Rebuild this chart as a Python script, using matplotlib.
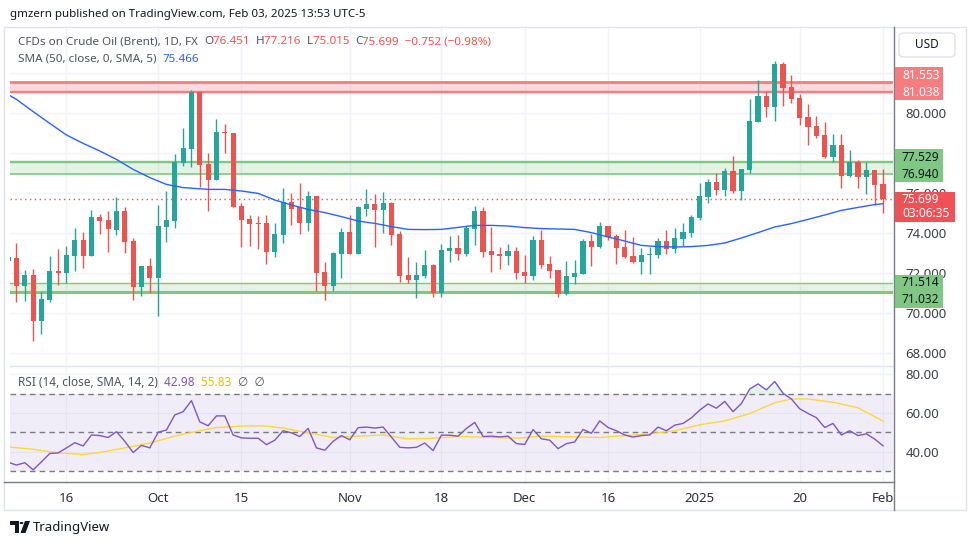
import numpy as np
import pandas as pd
import matplotlib
matplotlib.use("Agg")
import matplotlib.pyplot as plt
from matplotlib.patches import Rectangle, FancyBboxPatch, Polygon, Circle
from matplotlib.lines import Line2D

plt.rcParams['font.family'] = ['Noto Sans', 'DejaVu Sans']

# daily bars, Sep 5 2024 .. Feb 3 2025 (no bar on Dec 25 / Jan 1)
dates = pd.bdate_range("2024-09-05", "2025-02-03")
dates = dates.drop([pd.Timestamp("2024-12-25"), pd.Timestamp("2025-01-01")])

opens = [72.60, 72.73, 71.37, 71.90, 69.62, 70.65, 72.10, 72.02, 72.87, 73.65, 72.87,
         74.80, 74.65, 74.17, 75.10, 73.60, 71.30, 72.35, 71.75, 74.30, 74.60,
         77.50, 78.22, 81.02, 77.45, 76.67, 79.05, 79.00, 75.35, 74.70, 74.50,
         74.50, 73.07, 73.92, 75.55, 75.27, 74.52, 75.85, 72.05, 71.37, 72.97,
         74.05, 72.97, 75.22, 75.45, 75.17, 75.50, 73.95, 71.90, 71.67, 71.87,
         72.40, 70.98, 73.12, 73.25, 72.97, 74.20, 75.10, 73.10, 72.95, 72.87,
         73.10, 72.05, 71.87, 73.65, 72.45, 72.15, 70.93, 71.82, 71.97, 73.60,
         73.32, 74.35, 73.85, 73.30, 72.85, 72.55, 72.90, 72.90, 73.60, 73.20,
         73.70, 74.00, 74.75, 75.80, 76.55, 76.15, 77.10, 76.10, 77.15, 79.55,
         80.85, 80.30, 82.45, 81.30, 80.75, 79.80, 79.35, 78.90, 77.80, 78.40,
         76.85, 77.55, 76.80, 77.15, 76.451]
highs = [72.90, 73.48, 72.15, 72.18, 71.05, 72.85, 73.20, 73.35, 74.25, 74.05, 75.15,
         74.95, 75.10, 75.80, 75.30, 73.75, 72.35, 72.75, 75.40, 76.10, 77.95,
         79.25, 81.15, 81.10, 78.02, 79.70, 79.45, 79.02, 75.48, 74.90, 74.87,
         74.90, 74.50, 76.25, 76.00, 76.50, 76.10, 75.85, 72.55, 73.05, 74.25,
         74.90, 75.35, 76.20, 75.93, 76.05, 75.53, 74.10, 72.80, 72.55, 73.15,
         72.45, 73.45, 73.85, 73.90, 74.35, 75.35, 75.30, 74.30, 73.30, 73.45,
         73.30, 72.90, 73.85, 74.15, 72.85, 72.15, 72.60, 72.65, 73.72, 73.95,
         74.55, 74.35, 73.95, 74.15, 73.80, 73.25, 73.32, 73.75, 74.15, 74.25,
         74.50, 74.90, 76.50, 76.70, 76.98, 77.25, 77.85, 77.20, 80.70, 81.65,
         81.10, 82.60, 82.55, 81.90, 80.95, 80.45, 79.85, 79.55, 78.95, 78.95,
         78.15, 77.65, 77.55, 77.15, 77.216]
lows = [72.40, 70.57, 70.62, 68.62, 68.95, 70.57, 71.42, 71.48, 72.12, 72.27, 72.85,
        73.97, 73.07, 73.92, 73.00, 70.65, 70.85, 71.02, 69.85, 73.55, 74.25,
        77.35, 77.32, 76.32, 75.12, 76.65, 78.02, 75.30, 73.32, 73.37, 73.22,
        72.47, 72.82, 73.52, 74.42, 73.97, 74.12, 71.12, 70.67, 71.12, 71.77,
        72.97, 72.97, 74.87, 73.32, 74.02, 73.42, 71.57, 71.52, 70.73, 71.77,
        70.82, 70.82, 72.55, 72.65, 72.85, 73.42, 72.82, 72.07, 72.20, 72.40,
        71.72, 71.48, 71.67, 72.27, 71.77, 70.82, 70.90, 71.47, 71.97, 72.37,
        73.27, 73.67, 72.47, 72.77, 72.50, 71.97, 71.97, 72.77, 72.97, 73.02,
        73.35, 73.80, 74.65, 75.50, 75.92, 75.87, 76.02, 75.67, 77.00, 79.55,
        79.80, 79.60, 80.35, 80.50, 79.40, 78.40, 78.75, 77.75, 77.55, 76.25,
        76.80, 76.25, 75.95, 75.40, 75.015]
closes = [72.80, 71.35, 71.90, 69.62, 70.70, 72.10, 72.02, 72.90, 73.65, 72.87, 74.80,
          74.62, 74.18, 75.10, 73.55, 71.30, 72.35, 71.75, 74.35, 74.65, 77.55,
          78.25, 81.02, 77.42, 76.67, 79.05, 79.02, 75.32, 74.67, 74.47, 74.47,
          73.07, 73.95, 75.55, 75.22, 74.52, 75.85, 72.02, 71.37, 73.00, 74.05,
          72.97, 75.27, 75.45, 75.17, 75.50, 73.92, 71.87, 71.67, 71.90, 72.40,
          70.98, 73.15, 73.25, 72.97, 74.25, 75.10, 73.07, 72.92, 72.87, 73.10,
          72.02, 71.87, 73.65, 72.40, 72.12, 70.93, 71.85, 72.00, 73.60, 73.32,
          74.35, 73.82, 73.27, 72.80, 72.55, 72.90, 72.95, 73.60, 73.20, 73.75,
          74.05, 74.80, 75.85, 76.55, 76.15, 77.10, 76.10, 77.20, 79.60, 80.85,
          80.30, 82.45, 81.25, 80.70, 79.75, 79.30, 78.85, 77.80, 78.40, 76.85,
          77.55, 76.80, 77.15, 76.40, 75.699]

# SMA(50) at bar positions
sma_bar = [-0.8, 0, 2, 4, 6, 8, 10, 12, 14, 16, 18, 20, 23, 25, 27, 29, 31, 33, 35,
           37, 39, 41, 43, 45, 47, 49, 51, 53, 55, 57, 59, 61, 63, 65, 67, 69, 71,
           73, 75, 77, 79, 81, 83, 85, 87, 89, 91, 93, 95, 97, 99, 101, 103, 104]
sma_val = [80.87, 80.68, 80.07, 79.48, 78.90, 78.48, 78.10, 77.68, 77.18, 76.77,
           76.43, 76.27, 76.18, 76.18, 76.10, 75.98, 75.65, 75.40, 75.18, 75.02,
           74.82, 74.60, 74.48, 74.32, 74.18, 74.17, 74.18, 74.28, 74.38, 74.38,
           74.35, 74.27, 74.22, 74.20, 74.18, 74.02, 73.80, 73.60, 73.38, 73.32,
           73.30, 73.32, 73.38, 73.50, 73.75, 74.02, 74.30, 74.47, 74.68, 74.90,
           75.13, 75.28, 75.42, 75.466]

rsi = [34.4, 33.0, 34.2, 30.5, 34.7, 39.0, 39.3, 41.9, 44.6, 42.9, 48.6, 48.3, 47.3,
       50.3, 45.3, 39.5, 43.2, 41.9, 50.0, 51.2, 59.0, 60.7, 66.4, 55.4, 53.4, 58.5,
       58.5, 48.6, 47.1, 46.9, 46.9, 43.6, 45.9, 50.8, 49.7, 47.8, 52.0, 41.9, 40.7,
       45.3, 48.3, 46.1, 52.4, 52.7, 52.2, 52.7, 47.5, 42.2, 41.9, 42.2, 44.4, 40.5,
       48.5, 48.5, 48.0, 52.0, 55.1, 47.8, 48.0, 47.6, 48.0, 44.1, 43.7, 51.4, 46.6,
       45.9, 41.5, 44.1, 45.0, 51.5, 49.5, 55.9, 52.5, 50.8, 48.6, 47.5, 48.3, 48.6,
       52.7, 50.8, 53.7, 54.6, 57.5, 61.5, 64.7, 62.5, 66.0, 60.7, 64.9, 72.4, 75.1,
       72.0, 76.4, 70.3, 67.3, 62.2, 59.8, 57.6, 52.5, 54.6, 48.6, 50.8, 48.3, 49.2,
       46.5, 42.98]

rsi_ma_bar = [-1, 2, 5, 8, 10, 13, 16, 19, 22, 24, 28, 30, 32, 35, 38, 41, 44, 47,
              50, 53, 56, 60, 63, 67, 70, 73, 76, 79, 82, 85, 88, 91, 93, 95, 98,
              101, 104]
rsi_ma = [42.4, 41.2, 39.3, 38.5, 39.5, 41.9, 44.4, 48.0, 50.8, 52.5, 53.4, 53.2,
          52.2, 49.7, 47.3, 48.0, 48.6, 46.6, 46.9, 47.8, 47.5, 46.9, 48.0, 47.6,
          47.3, 48.3, 49.2, 50.8, 53.9, 55.9, 59.7, 65.3, 67.3, 67.3, 65.6, 62.7,
          55.83]

# horizontal zones
red_zone = (81.038, 81.553)
green_hi = (76.940, 77.529)
green_lo = (71.032, 71.514)
last_price = 75.699

tick_days = ["2024-09-16", "2024-10-01", "2024-10-15", "2024-11-01", "2024-11-18",
             "2024-12-02", "2024-12-16", "2025-01-02", "2025-01-20", "2025-02-03"]
tick_text = ["16", "Oct", "15", "Nov", "18", "Dec", "16", "2025", "20", "Feb"]

UP, DN = "#26a69a", "#ef5350"
GRID = "#f0f3fa"
W, H = 970, 545

xs = np.arange(len(dates)) - 1
o, h, l, c = map(np.array, (opens, highs, lows, closes))

fig = plt.figure(figsize=(W / 100, H / 100), dpi=100)
fig.patch.set_facecolor("white")

def box(px0, py0, px1, py1):
    return [px0 / W, 1 - py1 / H, (px1 - px0) / W, (py1 - py0) / H]

ax = fig.add_axes(box(10, 27, 893, 365))
rx = fig.add_axes(box(10, 366, 893, 482))

xlim = (-0.78, 105.2)
ax.set_xlim(*xlim)
ax.set_ylim(67.4, 84.3)
rx.set_xlim(*xlim)
rx.set_ylim(24.2, 84.4)

tick_pos = [int(np.where(dates == pd.Timestamp(d))[0][0]) - 1 for d in tick_days]

for a in (ax, rx):
    for s in a.spines.values():
        s.set_visible(False)
    a.set_xticks(tick_pos)
    for t in tick_pos:
        a.axvline(t, color=GRID, lw=1, zorder=0)
    a.yaxis.tick_right()
    a.tick_params(axis="y", length=0, pad=9, labelsize=9.5, labelcolor="#3c3f4a")

ax.set_xticklabels([])
ax.tick_params(axis="x", length=0)
rx.set_xticklabels(tick_text)
rx.tick_params(axis="x", length=0, pad=7, labelsize=9.5, labelcolor="#2a2e39")
for lab in rx.get_xticklabels():
    if lab.get_text() == "2025":
        lab.set_fontweight("bold")

# price pane grid + ticks (78 and 82 sit under the tags, so no text there)
yt = [68, 70, 72, 74, 76, 78, 80, 82]
ax.set_yticks(yt)
ax.set_yticklabels([f"{v:.3f}" if v not in (78, 82) else "" for v in yt])
for v in yt:
    ax.axhline(v, color=GRID, lw=1, zorder=0)

# zones
ax.axhspan(*red_zone, color="#f23645", alpha=0.18, lw=0, zorder=1)
for v, lw in ((red_zone[1], 2.0), (red_zone[0] + 0.06, 1.0), (red_zone[0], 1.0)):
    ax.axhline(v, color="#f77c80", lw=lw, zorder=1.2)
for zone in (green_hi, green_lo):
    ax.axhspan(*zone, color="#4caf50", alpha=0.15, lw=0, zorder=1)
ax.axhline(green_hi[1] + 0.07, color="#81c784", lw=1, zorder=1.2)
ax.axhline(green_hi[1], color="#81c784", lw=1, zorder=1.2)
ax.axhline(green_hi[0], color="#81c784", lw=1.2, zorder=1.2)
ax.axhline(green_lo[1], color="#81c784", lw=1, zorder=1.2)
ax.axhline(green_lo[0], color="#81c784", lw=2.2, zorder=1.2)

# candles
col = np.where(c >= o, UP, DN)
ax.vlines(xs, l, h, colors=col, lw=1, zorder=3)
ax.bar(xs, np.abs(c - o) + 0.02, bottom=np.minimum(o, c), width=0.62, color=col,
       lw=0, zorder=4)

ax.plot(sma_bar, sma_val, color="#2962ff", lw=1, zorder=5)
ax.axhline(last_price, color=DN, lw=1, ls=(0, (1, 2.5)), zorder=2)

# RSI pane
rt = [40, 60, 80]
rx.set_yticks(rt)
rx.set_yticklabels([f"{v:.2f}" for v in rt])
for v in rt:
    rx.axhline(v, color=GRID, lw=1, zorder=0)
rx.axhspan(30, 70, color="#7e57c2", alpha=0.1, lw=0, zorder=1)
for v in (30, 50, 70):
    rx.axhline(v, color="#787b86", lw=1, ls=(0, (4, 3)), zorder=2)
r = np.array(rsi)
rx.fill_between(xs, 70, r, where=r > 70, interpolate=True, color="#4caf50",
                alpha=0.15, lw=0, zorder=2)
rx.plot(rsi_ma_bar, rsi_ma, color="#fdd835", lw=1, zorder=3)
rx.plot(xs, r, color="#7e57c2", lw=1, zorder=4)

# frame / separators
L = Line2D
fig.add_artist(L([4 / W, 966 / W], [1 - 27 / H] * 2, color="#e0e3eb", lw=1))
fig.add_artist(L([4 / W, 966 / W], [1 - 510 / H] * 2, color="#e0e3eb", lw=1))
fig.add_artist(L([4 / W] * 2, [1 - 27 / H, 1 - 510 / H], color="#e0e3eb", lw=1))
fig.add_artist(L([966 / W] * 2, [1 - 27 / H, 1 - 510 / H], color="#e0e3eb", lw=1))
fig.add_artist(L([10 / W, 893 / W], [1 - 365.5 / H] * 2, color="#e0e3eb", lw=1))
fig.add_artist(L([4 / W, 894 / W], [1 - 482 / H] * 2, color="#787b86", lw=1))
fig.add_artist(L([894 / W] * 2, [1 - 27 / H, 1 - 510 / H], color="#787b86", lw=1))

# USD button
fig.add_artist(FancyBboxPatch((899 / W, 1 - 57 / H), 56 / W, 24 / H,
                              boxstyle="round,pad=0,rounding_size=0.006",
                              fc="white", ec="#e0e3eb", lw=1))
fig.text(927 / W, 1 - 45 / H, "USD", ha="center", va="center", fontsize=8.5,
         color="#131722")

# price tags on the right scale
def pix_y(p):
    return fig.bbox.height - ax.transData.transform((0, p))[1]

def tag(p_lines, top, bottom, fc, tc, width=48):
    fig.add_artist(Rectangle((895 / W, 1 - bottom / H), width / W, (bottom - top) / H,
                             fc=fc, ec="none", zorder=5))
    for txt, yy in p_lines:
        fig.text(902 / W, 1 - yy / H, txt, ha="left", va="center", fontsize=8.6,
                 color=tc, zorder=6)

yr = pix_y(red_zone[0])
tag([(f"{red_zone[1]:.3f}", yr - 17), (f"{red_zone[0]:.3f}", yr)], yr - 25, yr + 8,
    "#f77c80", "white")
yg = pix_y(green_hi[0])
tag([(f"{green_hi[1]:.3f}", yg - 17), (f"{green_hi[0]:.3f}", yg)], yg - 25, yg + 8,
    "#81c784", "#131722")
yl = pix_y(green_lo[1])
tag([(f"{green_lo[1]:.3f}", yl), (f"{green_lo[0]:.3f}", yl + 17)], yl - 8, yl + 25,
    "#81c784", "#131722")
yp = pix_y(last_price)
tag([(f"{last_price:.3f}", yp), ("03:06:35", yp + 14)], yp - 7, yp + 23,
    "#f15057", "white", width=60)

# header + legends
renderer = fig.canvas.get_renderer()

def seq_text(x_px, y_px, parts, size):
    x = x_px
    for s, colr in parts:
        t = fig.text(x / W, 1 - y_px / H, s, color=colr, fontsize=size,
                     ha="left", va="center")
        x += t.get_window_extent(renderer=renderer).width

G = "#50535e"
seq_text(10, 14, [("gmzern published on TradingView.com, Feb 03, 2025 13:53 UTC-5",
                   "#131722")], 8.3)
seq_text(18, 42, [("CFDs on Crude Oil (Brent), 1D, FX  ", G), ("O", G),
                  ("76.451  ", DN), ("H", G), ("77.216  ", DN), ("L", G),
                  ("75.015  ", DN), ("C", G), ("75.699  \u22120.752 (\u22120.98%)", DN)],
         8.4)
seq_text(18, 59, [("SMA (50, close, 0, SMA, 5)  ", G), ("75.466", "#2962ff")], 8.4)
seq_text(18, 383, [("RSI (14, close, SMA, 14, 2)  ", G), ("42.98  ", "#7e57c2"),
                   ("55.83  ", "#e5c100"), ("\u2205  \u2205", G)], 8.5)

# TradingView mark + name
def px_poly(pts, **kw):
    return Polygon([(x / W, 1 - y / H) for x, y in pts], closed=True, **kw)

fig.add_artist(px_poly([(10, 521), (19, 521), (19, 533), (15, 533), (15, 525),
                        (10, 525)], fc="#131722", ec="none"))
fig.add_artist(Circle((21.5 / W, 1 - 523 / H), 1.9 / W, fc="#131722", ec="none"))
fig.add_artist(px_poly([(25, 521), (30, 521), (25.5, 533), (20.5, 533)],
                       fc="#131722", ec="none"))
fig.text(33 / W, 1 - 527 / H, "TradingView", fontsize=9.5, color="#131722",
         va="center")

fig.savefig("out.png", dpi=100)
